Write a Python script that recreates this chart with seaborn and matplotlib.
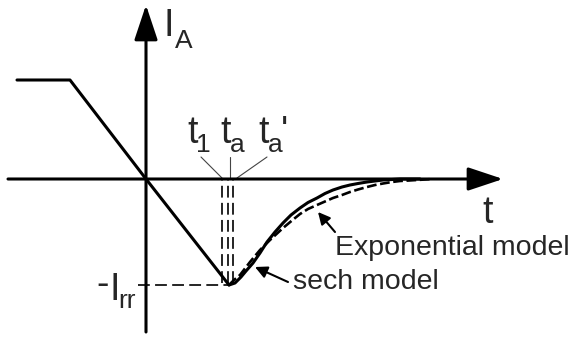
import matplotlib
matplotlib.use("Agg")
import matplotlib.pyplot as plt
import numpy as np
import pandas as pd
import seaborn as sns

# ---- waveform data (time t, anode current I_A) ----
# forward current, linear di/dt fall, reverse peak at t_a
ramp_t = [-1.29, -0.76, 0.0, 0.83]
ramp_i = [0.99, 0.99, 0.0, -1.06]

# recovery tail, sech model
sech_t = [0.83, 0.89, 0.95, 1.00, 1.07, 1.14, 1.21, 1.29, 1.37, 1.45, 1.54,
          1.62, 1.71, 1.79, 1.87, 1.96, 2.04, 2.12, 2.21, 2.29, 2.37, 2.46, 2.54, 2.74]
sech_i = [-1.06, -1.04, -0.98, -0.92, -0.84, -0.74, -0.63, -0.53, -0.44, -0.36, -0.29,
          -0.235, -0.19, -0.145, -0.11, -0.08, -0.06, -0.045, -0.03, -0.02, -0.01, -0.005, 0.0, 0.0]

# recovery tail, exponential model
exp_t = [0.83, 0.88, 0.94, 1.04, 1.14, 1.24, 1.37, 1.46, 1.54, 1.62, 1.71, 1.79,
         1.87, 1.96, 2.04, 2.12, 2.21, 2.29, 2.37, 2.46, 2.54, 2.63, 2.71, 2.87]
exp_i = [-1.06, -1.01, -0.96, -0.83, -0.71, -0.61, -0.49, -0.415, -0.35, -0.30, -0.26, -0.225,
         -0.19, -0.16, -0.13, -0.105, -0.08, -0.06, -0.045, -0.03, -0.02, -0.015, -0.01, 0.0]

# characteristic instants t1, t_a, t_a'
mark_t = [0.76, 0.82, 0.87]
mark_names = ["1", "a", "a"]
i_rr = 1.06

sns.set_theme(style="white")
plt.rcParams["font.family"] = ["Liberation Sans", "DejaVu Sans"]
plt.rcParams["lines.scale_dashes"] = False

fig = plt.figure(figsize=(5.74, 3.49), dpi=100)
ax = fig.add_axes([0, 0, 1, 1])
ax.set_xlim(-1.46, 4.28)
ax.set_ylim(-1.70, 1.79)
ax.set_axis_off()

# axes with arrow heads
ax_style = dict(arrowstyle="-|>,head_length=1.5,head_width=0.5", mutation_scale=14.4,
                lw=2.2, color="black", shrinkA=0, shrinkB=0)
ax.annotate("", xy=(0, 1.74), xytext=(0, -1.53), arrowprops=ax_style)
ax.annotate("", xy=(3.57, 0), xytext=(-1.38, 0), arrowprops=ax_style)

# forward current and di/dt ramp
df_ramp = pd.DataFrame({"t": ramp_t, "i": ramp_i})
sns.lineplot(data=df_ramp, x="t", y="i", ax=ax, color="black", lw=2.2, sort=False)

# recovery models
df_sech = pd.DataFrame({"t": sech_t, "i": sech_i})
sns.lineplot(data=df_sech, x="t", y="i", ax=ax, color="black", lw=2.2, sort=False)
df_exp = pd.DataFrame({"t": exp_t, "i": exp_i})
sns.lineplot(data=df_exp, x="t", y="i", ax=ax, color="black", lw=1.9, sort=False,
             linestyle=(0, (7.0, 2.6)))

# -I_rr level and vertical markers
ax.plot([-0.08, ramp_t[-1]], [-i_rr, -i_rr], color="black", lw=1.2,
        linestyle=(0, (8.5, 3.8)))
ax.vlines(mark_t, -i_rr + 0.02, 0, color="black", lw=1.2, linestyles=[(0, (8.5, 3.8))])

# leader lines from the labels to the markers
lead_from = [(0.55, 0.22), (0.84, 0.22), (1.21, 0.22)]
lead_to = [(0.76, 0.01), (0.84, 0.01), (0.91, 0.01)]
for (x0, y0), (x1, y1) in zip(lead_from, lead_to):
    ax.plot([x0, x1], [y0, y1], color="#444444", lw=0.8)

# labels
big = 27
small = 19
ax.text(0.18, 1.43, "I", fontsize=big, ha="left", va="baseline")
ax.text(0.29, 1.31, "A", fontsize=small, ha="left", va="baseline")
ax.text(3.36, -0.44, "t", fontsize=big, ha="left", va="baseline")

t_label_x = [0.41, 0.74, 1.12]
for xl, sub in zip(t_label_x, mark_names):
    ax.text(xl, 0.36, "t", fontsize=big, ha="left", va="baseline")
    ax.text(xl + 0.095, 0.27, sub, fontsize=small, ha="left", va="baseline")
ax.text(1.35, 0.36, "'", fontsize=big, ha="left", va="baseline")

ax.text(-0.50, -1.16, "-", fontsize=big, ha="left", va="baseline")
ax.text(-0.365, -1.21, "I", fontsize=big, ha="left", va="baseline")
ax.text(-0.28, -1.29, "rr", fontsize=small, ha="left", va="baseline")

# model annotations
arr = dict(arrowstyle="-|>,head_length=0.4,head_width=0.2", mutation_scale=18,
           lw=1.5, color="black", shrinkA=0, shrinkB=0)
ax.annotate("", xy=(1.72, -0.33), xytext=(1.89, -0.53), arrowprops=arr)
ax.annotate("", xy=(1.09, -0.88), xytext=(1.42, -1.03), arrowprops=arr)
ax.text(1.89, -0.76, "Exponential model", fontsize=20.5, ha="left", va="baseline")
ax.text(1.47, -1.10, "sech model", fontsize=20.5, ha="left", va="baseline")

fig.savefig("out.png", dpi=100)
